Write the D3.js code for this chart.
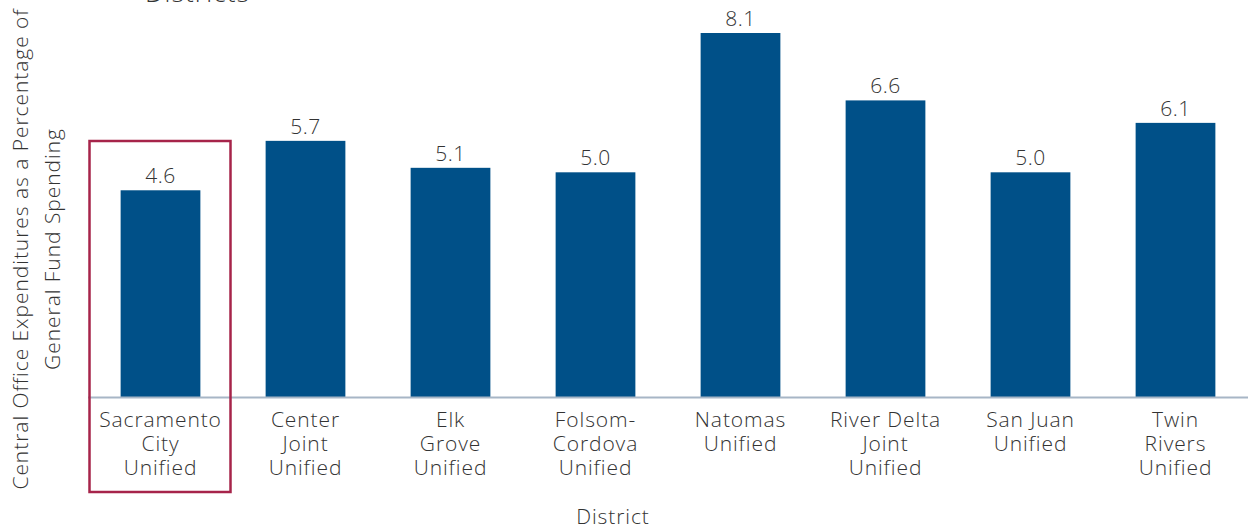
<!DOCTYPE html>
<html>
<head>
<meta charset="utf-8">
<script src="https://cdn.jsdelivr.net/npm/d3@7"></script>
<style>
  body { margin: 0; background: #fff; }
  text { font-family: "Open Sans", "Lato", sans-serif; font-weight: 300; fill: #333; }
</style>
</head>
<body>
<div id="chart"></div>
<script>
// District names (line-broken the way the chart shows them)
const districts = [
  ["Sacramento", "City", "Unified"],
  ["Center", "Joint", "Unified"],
  ["Elk", "Grove", "Unified"],
  ["Folsom-", "Cordova", "Unified"],
  ["Natomas", "Unified"],
  ["River Delta", "Joint", "Unified"],
  ["San Juan", "Unified"],
  ["Twin", "Rivers", "Unified"]
];
// central office spending, % of general fund
const values = [4.6, 5.7, 5.1, 5.0, 8.1, 6.6, 5.0, 6.1];
const highlighted = "Sacramento City Unified";

const width = 1248;
const height = 529;
const margin = { top: 33, right: 0, bottom: 132, left: 88 };

const svg = d3.select("#chart")
  .append("svg")
  .attr("width", width)
  .attr("height", height);

const names = districts.map(d => d.join(" "));

const x = d3.scaleBand()
  .domain(names)
  .range([margin.left, width - margin.right])
  .paddingInner(0.45)
  .paddingOuter(0.225);

const y = d3.scaleLinear()
  .domain([0, 8.1])
  .range([height - margin.bottom, margin.top]);

// bars
svg.selectAll(".bar")
  .data(values)
  .join("rect")
  .attr("class", "bar")
  .attr("x", (d, i) => x(names[i]))
  .attr("y", d => y(d))
  .attr("width", x.bandwidth())
  .attr("height", d => y(0) - y(d))
  .attr("fill", "#005088");

// value labels
svg.selectAll(".val")
  .data(values)
  .join("text")
  .attr("class", "val")
  .attr("x", (d, i) => x(names[i]) + x.bandwidth() / 2)
  .attr("y", d => y(d) - 7)
  .attr("text-anchor", "middle")
  .style("font-size", "21px")
  .style("letter-spacing", "0.5px")
  .text(d => d3.format(".1f")(d));

// baseline
svg.append("line")
  .attr("x1", margin.left)
  .attr("x2", width)
  .attr("y1", y(0) + 0.5)
  .attr("y2", y(0) + 0.5)
  .attr("stroke", "#a7b6c6")
  .attr("stroke-width", 2);

// category labels
const cat = svg.selectAll(".cat")
  .data(districts)
  .join("text")
  .attr("class", "cat")
  .attr("text-anchor", "middle")
  .style("font-size", "21px")
  .style("letter-spacing", "0.9px");

cat.selectAll("tspan")
  .data((d, i) => d.map(line => ({ line, i })))
  .join("tspan")
  .attr("x", d => x(names[d.i]) + x.bandwidth() / 2)
  .attr("y", (d, j) => y(0) + 30 + j * 24)
  .text(d => d.line);

// highlight box
const hi = names.indexOf(highlighted);
svg.append("rect")
  .attr("x", x(names[hi]) + x.bandwidth() / 2 - 71)
  .attr("y", 141)
  .attr("width", 141)
  .attr("height", 351)
  .attr("fill", "none")
  .attr("stroke", "#a6244a")
  .attr("stroke-width", 2.5);

// y axis title
const yTitle = svg.append("text")
  .attr("transform", "translate(0," + 249 + ") rotate(-90)")
  .attr("text-anchor", "middle")
  .style("font-size", "21px")
  .style("letter-spacing", "0.95px");
yTitle.append("tspan").attr("x", 0).attr("y", 28).text("Central Office Expenditures as a Percentage of");
yTitle.append("tspan").attr("x", 0).attr("y", 60).text("General Fund Spending");

// x axis title
svg.append("text")
  .attr("x", 613)
  .attr("y", 524)
  .attr("text-anchor", "middle")
  .style("font-size", "21px")
  .style("letter-spacing", "0.9px")
  .text("District");

// chart title (cut off at the top)
svg.append("text")
  .attr("x", 145)
  .attr("y", 2)
  .style("font-size", "26px")
  .style("letter-spacing", "1.2px")
  .text("Districts");
</script>
</body>
</html>
